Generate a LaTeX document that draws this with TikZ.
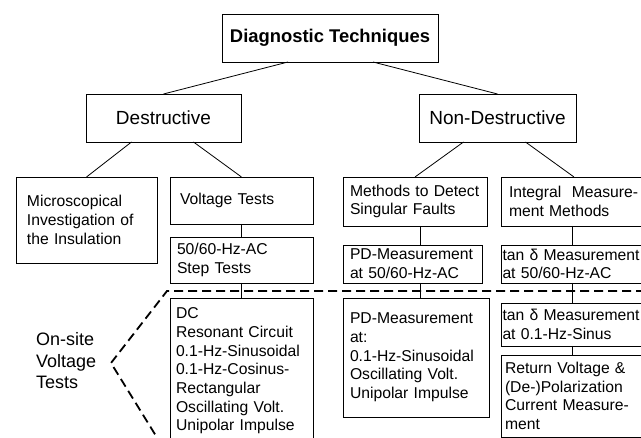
\documentclass[tikz,border=0pt]{standalone}
\usepackage{fontspec}
\setmainfont{Liberation Sans}

\begin{document}
\begin{tikzpicture}[x=1pt,y=-1pt,
    box/.style={draw,line width=0.9pt,anchor=north west,outer sep=0pt,inner ysep=0pt,align=left,
      font={\fontsize{15.7}{18.7}\selectfont\hyphenpenalty=10000\exhyphenpenalty=10000}},
    cell/.style n args={3}{box,minimum width=#1,minimum height=#2,inner xsep=#3,text width=#1-2*#3},
    head/.style={draw,line width=0.9pt,anchor=north west,outer sep=0pt,align=center,
      font=\fontsize{19}{22}\selectfont},
    link/.style={line width=0.8pt},
    site/.style={line width=1.8pt,dash pattern=on 9pt off 5pt}]
  \useasboundingbox (0,0) rectangle (641,438);
  \clip (0,0) rectangle (641,438);
  % ---------------- top levels ----------------
  \node[head,font=\fontsize{18.4}{22}\selectfont\bfseries,minimum width=216,minimum height=48,inner xsep=0pt] (diag) at (222,14) {Diagnostic Techniques};
  \node[head,minimum width=155,minimum height=48] (destr) at (86,94) {Destructive};
  \node[head,minimum width=157,minimum height=48] (nondestr) at (419,94) {Non-Destructive};
  % ---------------- methods ----------------
  \node[cell={141}{86}{11}] (micro) at (16,177) {Microscopical\\Investigation of\\the Insulation};
  \node[cell={143}{47}{10}] (volt) at (170,177) {Voltage Tests};
  \node[cell={144}{49}{7}] (meth) at (343,177) {Methods to Detect\\Singular Faults};
  \node[cell={146}{49}{8}] (integ) at (501,177) {Integral\ \ Measure-\\ment Methods};
  % ---------------- laboratory (50/60 Hz) ----------------
  \node[cell={143}{46}{7}] (step) at (170,237) {50/60-Hz-AC\\Step Tests};
  \node[cell={139}{38}{7}] (pdac) at (343,245) {PD-Measurement\\at 50/60-Hz-AC};
  \node[cell={146}{38}{1.5}] (tanac) at (501,245) {tan δ Measurement\\at 50/60-Hz-AC};
  % ---------------- on-site ----------------
  \node[cell={143}{146}{6}] (dc) at (170,298) {DC\\Resonant Circuit\\0.1-Hz-Sinusoidal\\0.1-Hz-Cosinus-\\Rectangular\\Oscillating Volt.\\Unipolar Impulse};
  \node[cell={146}{119}{7}] (pdsite) at (343,298) {PD-Measurement\\at:\\0.1-Hz-Sinusoidal\\Oscillating Volt.\\Unipolar Impulse};
  \node[cell={146}{43}{1.5}] (tansin) at (501,303) {tan δ Measurement\\at 0.1-Hz-Sinus};
  \node[cell={146}{82}{4}] (ret) at (501,355) {Return Voltage \&\\(De-)Polarization\\Current Measure-\\ment};
  \node[font=\fontsize{18}{21.5}\selectfont,align=left,anchor=west,inner sep=0pt] (onsite) at (36,361) {On-site\\Voltage\\Tests};
  % ---------------- connectors ----------------
  \coordinate (midcol) at (420,0);
  \coordinate (rcol) at (572,0);
  \draw[link] ([xshift=-42]diag.south) -- (destr.north);
  \draw[link] ([xshift=43]diag.south) -- (nondestr.north);
  \draw[link] ([xshift=-32]destr.south) -- (micro.north);
  \draw[link] ([xshift=30]destr.south) -- (volt.north);
  \draw[link] ([xshift=-34]nondestr.south) -- (meth.north);
  \draw[link] ([xshift=28]nondestr.south) -- (integ.north);
  \draw[link] (volt.south) -- (step.north);
  \draw[link] (step.south) -- (dc.north);
  \draw[link] (meth.south -| midcol) -- (pdac.north -| midcol);
  \draw[link] (pdac.south -| midcol) -- (pdsite.north -| midcol);
  \draw[link] (integ.south -| rcol) -- (tanac.north -| rcol);
  \draw[link] (tanac.south -| rcol) -- (tansin.north -| rcol);
  \draw[link] (tansin.south -| rcol) -- (ret.north -| rcol);
  % on-site border
  \coordinate (dtop) at (167,291);
  \coordinate (dtip) at (111,363);
  \coordinate (dbot) at (161,444);
  \coordinate (dend) at (645,291);
  \draw[site] (dend) -- (dtop) -- (dtip) -- (dbot);
\end{tikzpicture}
\end{document}
